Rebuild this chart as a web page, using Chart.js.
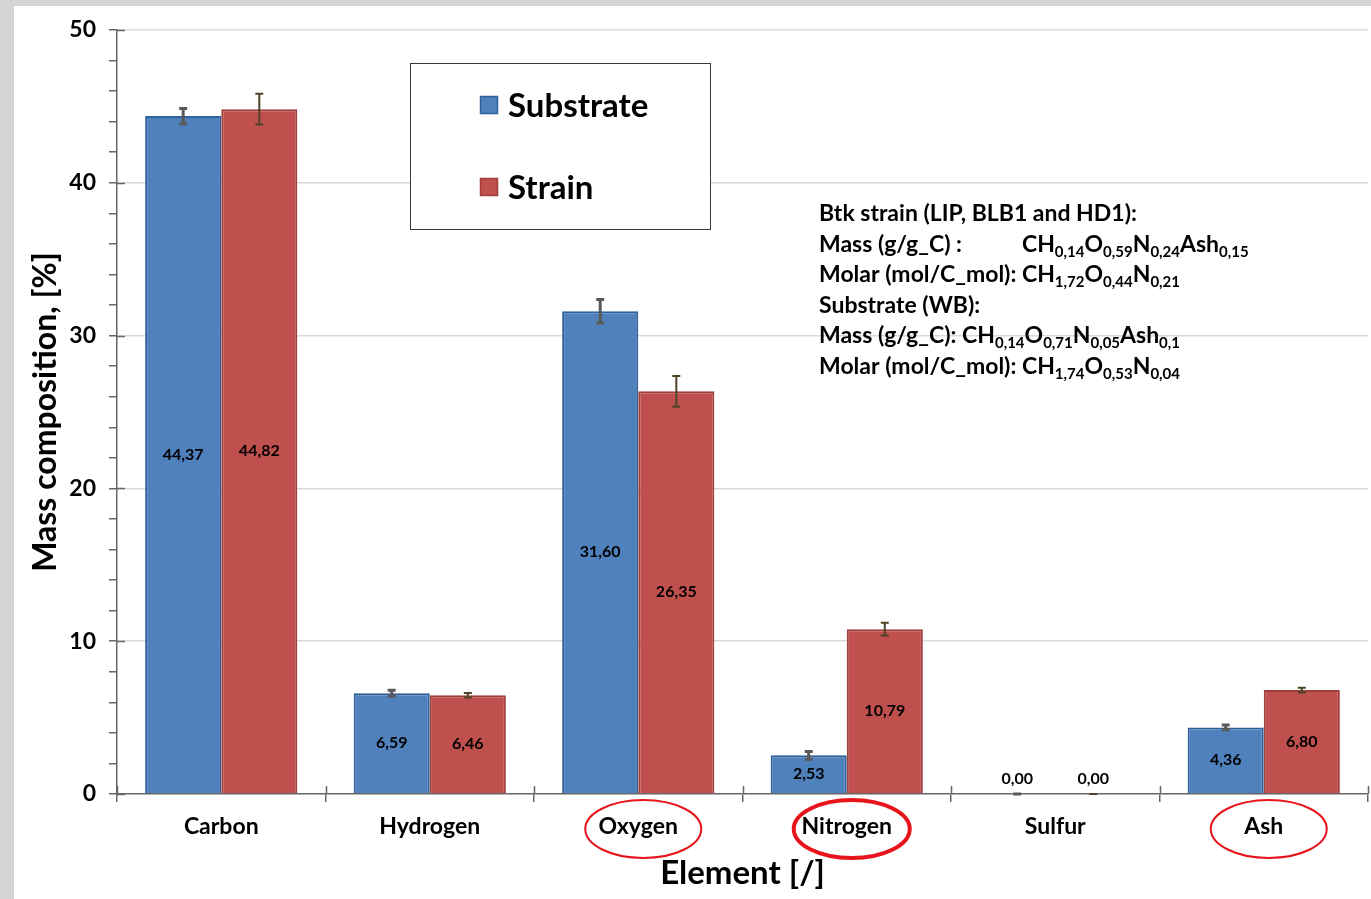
<!DOCTYPE html>
<html><head><meta charset="utf-8">
<script src="https://cdn.jsdelivr.net/npm/chart.js@4/dist/chart.umd.min.js"></script>
<style>
html,body{margin:0;padding:0;background:#d4d4d4;overflow:hidden}
#wrap{position:absolute;left:0;top:0;width:1371px;height:899px}
canvas{display:block}
</style></head>
<body><div id="wrap"><canvas id="c" width="1371" height="899" style="width:1371px;height:899px"></canvas></div>
<script>
// ---- data ----
const categories = ['Carbon', 'Hydrogen', 'Oxygen', 'Nitrogen', 'Sulfur', 'Ash'];
const seriesNames = ['Substrate', 'Strain'];
const substrateValues = [44.37, 6.59, 31.60, 2.53, 0.00, 4.36];
const strainValues = [44.82, 6.46, 26.35, 10.79, 0.00, 6.80];
const substrateErrors = [0.50, 0.20, 0.77, 0.25, 0.00, 0.15];
const strainErrors = [1.00, 0.15, 1.00, 0.42, 0.00, 0.15];
const yTickLabels = [0, 10, 20, 30, 40, 50];
const circledCategories = ['Oxygen', 'Nitrogen', 'Ash'];
const xTitle = 'Element [/]';
const yTitle = 'Mass composition, [%]';
const noteLines = [
  { label: 'Btk strain (LIP, BLB1 and HD1):', formula: null },
  { label: 'Mass (g/g_C) :', formula: [['CH', '0,14'], ['O', '0,59'], ['N', '0,24'], ['Ash', '0,15']], aligned: true },
  { label: 'Molar (mol/C_mol): ', formula: [['CH', '1,72'], ['O', '0,44'], ['N', '0,21']] },
  { label: 'Substrate (WB):', formula: null },
  { label: 'Mass (g/g_C): ', formula: [['CH', '0,14'], ['O', '0,71'], ['N', '0,05'], ['Ash', '0,1']] },
  { label: 'Molar (mol/C_mol): ', formula: [['CH', '1,74'], ['O', '0,53'], ['N', '0,04']] }
];

// ---- styles ----
const FONT = 'Lato, "Open Sans", sans-serif';
const fills = ['#4f81bd', '#c0504d'];
const borders = ['#30609a', '#a03f3c'];
const errColors = ['#5a5a5a', '#4d4526'];
const errWidths = [3, 2];
const axisColor = '#666666';

const fmt = v => v.toFixed(2).replace('.', ',');

const drawPlugin = {
  id: 'extras',
  beforeDraw(chart) {
    const ctx = chart.ctx;
    ctx.save();
    ctx.fillStyle = '#d4d4d4';
    ctx.fillRect(0, 0, chart.width, chart.height);
    ctx.fillStyle = '#ffffff';
    ctx.fillRect(14, 6, chart.width - 14, chart.height - 6);
    ctx.restore();
  },
  afterDatasetsDraw(chart) {
    const ctx = chart.ctx;
    const ys = chart.scales.y;
    const errs = [substrateErrors, strainErrors];
    ctx.save();
    chart.data.datasets.forEach((ds, di) => {
      const meta = chart.getDatasetMeta(di);
      meta.data.forEach((el, i) => {
        const v = ds.data[i], e = errs[di][i];
        const yt = ys.getPixelForValue(v + e), yb = ys.getPixelForValue(Math.max(v - e, 0));
        ctx.strokeStyle = errColors[di];
        ctx.lineWidth = errWidths[di];
        ctx.beginPath();
        ctx.moveTo(el.x, yt); ctx.lineTo(el.x, yb);
        ctx.moveTo(el.x - 4, yt); ctx.lineTo(el.x + 4, yt);
        ctx.moveTo(el.x - 4, yb); ctx.lineTo(el.x + 4, yb);
        ctx.stroke();
      });
    });
    // value labels
    ctx.fillStyle = '#000';
    ctx.font = 'bold 16px ' + FONT;
    ctx.textAlign = 'center';
    ctx.textBaseline = 'middle';
    chart.data.datasets.forEach((ds, di) => {
      const meta = chart.getDatasetMeta(di);
      meta.data.forEach((el, i) => {
        const v = ds.data[i];
        const y = v === 0 ? el.base - 15 : (el.y + el.base) / 2;
        ctx.fillText(fmt(v), el.x, y);
      });
    });
    ctx.restore();
  },
  afterDraw(chart) {
    const ctx = chart.ctx;
    const xs = chart.scales.x, ys = chart.scales.y;
    const ca = chart.chartArea;
    ctx.save();
    // tick crossings
    ctx.strokeStyle = axisColor;
    ctx.lineWidth = 1.5;
    ctx.beginPath();
    for (let i = 0; i <= categories.length; i++) {
      const x = Math.round(ca.left + (ca.right - ca.left) * i / categories.length) + 0.5;
      ctx.moveTo(x, ca.bottom - 8); ctx.lineTo(x, ca.bottom);
    }
    yTickLabels.forEach(v => {
      const y = Math.round(ys.getPixelForValue(v)) + 0.5;
      ctx.moveTo(ca.left, y); ctx.lineTo(ca.left + 8, y);
    });
    ctx.stroke();

    // legend box
    ctx.fillStyle = '#fff';
    ctx.fillRect(410, 63, 300, 166);
    ctx.strokeStyle = '#3a3a3a';
    ctx.lineWidth = 1;
    ctx.strokeRect(410.5, 63.5, 300, 166);
    ctx.font = 'bold 33px ' + FONT;
    ctx.textAlign = 'left';
    ctx.textBaseline = 'middle';
    chart.data.datasets.forEach((ds, di) => {
      const cy = di === 0 ? 105 : 187;
      ctx.fillStyle = fills[di];
      ctx.fillRect(480, cy - 9, 18, 18);
      ctx.strokeStyle = borders[di];
      ctx.lineWidth = 1.5;
      ctx.strokeRect(480.5, cy - 8.5, 17, 17);
      ctx.fillStyle = '#000';
      ctx.fillText(ds.label, 508, cy + 1);
    });

    // notes
    const mainFont = 'bold 23px ' + FONT, subFont = 'bold 15px ' + FONT;
    ctx.textBaseline = 'alphabetic';
    ctx.font = mainFont;
    const x0 = 819;
    const alignX = x0 + ctx.measureText(noteLines[2].label).width;
    noteLines.forEach((ln, k) => {
      const base = 221 + k * 30.6;
      ctx.font = mainFont;
      ctx.fillStyle = '#000';
      ctx.fillText(ln.label, x0, base);
      if (ln.formula) {
        let x = ln.aligned ? alignX : x0 + ctx.measureText(ln.label).width;
        ln.formula.forEach(([el, sub]) => {
          ctx.font = mainFont;
          ctx.fillText(el, x, base);
          x += ctx.measureText(el).width;
          ctx.font = subFont;
          ctx.fillText(sub, x, base + 5);
          x += ctx.measureText(sub).width;
        });
      }
    });

    // ellipses around highlighted categories
    ctx.strokeStyle = '#e8141b';
    categories.forEach((c, i) => {
      if (!circledCategories.includes(c)) return;
      const cx = xs.getPixelForValue(i) + 5;
      ctx.lineWidth = c === 'Nitrogen' ? 4 : 2;
      ctx.beginPath();
      ctx.ellipse(cx, 829, 58, 29, 0, 0, Math.PI * 2);
      ctx.stroke();
    });
    ctx.restore();
  }
};

new Chart(document.getElementById('c'), {
  type: 'bar',
  data: {
    labels: categories,
    datasets: [
      { label: seriesNames[0], data: substrateValues, backgroundColor: fills[0], borderColor: borders[0], borderWidth: 2, borderSkipped: 'bottom' },
      { label: seriesNames[1], data: strainValues, backgroundColor: fills[1], borderColor: borders[1], borderWidth: 2, borderSkipped: 'bottom' }
    ]
  },
  options: {
    responsive: false,
    maintainAspectRatio: false,
    animation: false,
    devicePixelRatio: 1,
    layout: { padding: { left: 14, top: 30, right: 3, bottom: 0 } },
    datasets: { bar: { categoryPercentage: 0.73, barPercentage: 1.0 } },
    plugins: { legend: { display: false }, tooltip: { enabled: false } },
    scales: {
      x: {
        afterFit: s => { s.height = 105; },
        grid: { display: true, offset: true, color: 'transparent', tickColor: axisColor, tickLength: 8, lineWidth: 1.5 },
        border: { display: true, color: axisColor, width: 1.5 },
        ticks: { color: '#000', font: { family: FONT, weight: 'bold', size: 23 }, padding: 11, maxRotation: 0 },
        title: { display: true, text: xTitle, color: '#000', font: { family: FONT, weight: 'bold', size: 33 }, padding: { top: 6, bottom: 6 } }
      },
      y: {
        min: 0, max: 50,
        afterFit: s => { s.width = 103; },
        afterBuildTicks: s => { const t = []; for (let v = 0; v <= 50; v += 2) t.push({ value: v }); s.ticks = t; },
        grid: {
          color: c => (c.tick && yTickLabels.includes(c.tick.value) && c.tick.value > 0) ? '#d9d9d9' : 'transparent',
          tickColor: axisColor, tickLength: 8, lineWidth: 1.5
        },
        border: { display: true, color: axisColor, width: 1.5 },
        ticks: {
          autoSkip: false,
          color: '#000', font: { family: FONT, weight: 'bold', size: 23 }, padding: 13,
          callback: v => yTickLabels.includes(v) ? String(v) : ''
        },
        title: { display: true, text: yTitle, color: '#000', font: { family: FONT, weight: 'bold', size: 32 }, padding: { top: 12, bottom: 0 } }
      }
    }
  },
  plugins: [drawPlugin]
});
</script>
</body></html>
